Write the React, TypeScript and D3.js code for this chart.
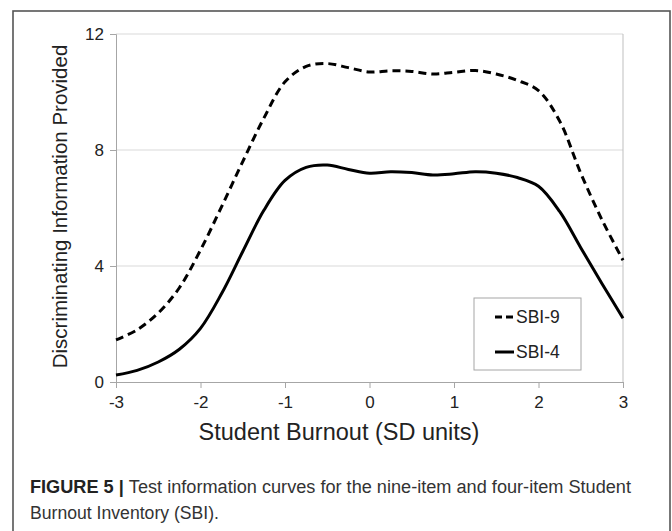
import React, { useEffect, useRef } from 'react';
import * as d3 from 'd3';

const theta = [-3, -2.75, -2.5, -2.25, -2, -1.75, -1.5, -1.25, -1, -0.75, -0.5, -0.25, 0,
	0.25, 0.5, 0.75, 1, 1.25, 1.5, 1.75, 2, 2.25, 2.5, 2.75, 3];
const sbi9 = [1.45, 1.8, 2.38, 3.25, 4.55, 6.05, 7.6, 9.1, 10.35, 10.88, 10.98, 10.84, 10.69,
	10.73, 10.71, 10.62, 10.68, 10.74, 10.62, 10.4, 10.05, 9.0, 7.2, 5.6, 4.2];
const sbi4 = [0.24, 0.4, 0.69, 1.13, 1.85, 3.05, 4.5, 5.92, 6.95, 7.4, 7.48, 7.33, 7.2,
	7.25, 7.22, 7.14, 7.18, 7.25, 7.2, 7.05, 6.75, 5.88, 4.63, 3.4, 2.2];
const xTicks = [-3, -2, -1, 0, 1, 2, 3];
const yTicks = [0, 4, 8, 12];
const seriesNames = ['SBI-9', 'SBI-4'];

const W = 672;
const H = 531;
const m = { left: 116, right: 623, top: 34, bottom: 382 };
const FONT = 'Liberation Sans, Arial, sans-serif';

const drawChart = (svgEl: SVGSVGElement) => {
	const svg = d3.select(svgEl);
	svg.selectAll('*').remove();

	const x = d3.scaleLinear().domain([-3, 3]).range([m.left, m.right]);
	const y = d3.scaleLinear().domain([0, 12]).range([m.bottom, m.top]);

	// outer frame
	svg.append('rect')
		.attr('x', 13).attr('y', 11)
		.attr('width', 657).attr('height', 540)
		.attr('fill', 'white')
		.attr('stroke', '#555').attr('stroke-width', 1.6);

	// gridlines
	svg.append('g').selectAll('line').data(yTicks.filter((d) => d > 0))
		.enter().append('line')
		.attr('x1', m.left).attr('x2', m.right)
		.attr('y1', (d) => y(d)).attr('y2', (d) => y(d))
		.attr('stroke', '#d9d9d9').attr('stroke-width', 1);

	// plot border right
	svg.append('line')
		.attr('x1', m.right).attr('x2', m.right)
		.attr('y1', m.top).attr('y2', m.bottom)
		.attr('stroke', '#bfbfbf');

	const fmt = (d: d3.NumberValue) => String(d);
	const yAxis = svg.append('g')
		.attr('transform', `translate(${ m.left },0)`)
		.call(d3.axisLeft(y).tickValues(yTicks).tickSize(6).tickPadding(6).tickFormat(fmt));
	const xAxis = svg.append('g')
		.attr('transform', `translate(0,${ m.bottom })`)
		.call(d3.axisBottom(x).tickValues(xTicks).tickSize(6).tickPadding(8).tickFormat(fmt));
	[yAxis, xAxis].forEach((ax) => {
		ax.select('.domain').attr('stroke', '#a6a6a6');
		ax.selectAll('.tick line').attr('stroke', '#a6a6a6');
		ax.selectAll('.tick text').attr('font-family', FONT).attr('font-size', 17).attr('fill', '#222');
	});

	const line = d3.line<number>()
		.x((_, i) => x(theta[i]))
		.y((d) => y(d))
		.curve(d3.curveCatmullRom.alpha(0.5));

	svg.append('path').datum(sbi9)
		.attr('d', line).attr('fill', 'none')
		.attr('stroke', '#000').attr('stroke-width', 3)
		.attr('stroke-dasharray', '8,5');
	svg.append('path').datum(sbi4)
		.attr('d', line).attr('fill', 'none')
		.attr('stroke', '#000').attr('stroke-width', 3);

	// axis titles
	svg.append('text')
		.attr('transform', `translate(67,${ (45 + 368) / 2 }) rotate(-90)`)
		.attr('text-anchor', 'middle')
		.attr('font-family', FONT).attr('font-size', 20.5).attr('fill', '#222')
		.text('Discriminating Information Provided');
	svg.append('text')
		.attr('x', 339).attr('y', 440)
		.attr('text-anchor', 'middle')
		.attr('font-family', FONT).attr('font-size', 23.5).attr('fill', '#222')
		.text('Student Burnout (SD units)');

	// legend
	const lg = svg.append('g');
	lg.append('rect')
		.attr('x', 474).attr('y', 298).attr('width', 107).attr('height', 72)
		.attr('fill', 'white').attr('stroke', '#a6a6a6');
	seriesNames.forEach((name, i) => {
		const cy = 317 + i * 35;
		lg.append('line')
			.attr('x1', 495).attr('x2', 514).attr('y1', cy).attr('y2', cy)
			.attr('stroke', '#000').attr('stroke-width', 3)
			.attr('stroke-dasharray', i === 0 ? '7,4' : null);
		lg.append('text')
			.attr('x', 516).attr('y', cy + 6)
			.attr('font-family', FONT).attr('font-size', 17.5).attr('fill', '#222')
			.text(name);
	});

	// caption
	const cap1 = svg.append('text')
		.attr('x', 30).attr('y', 493)
		.attr('textLength', 601).attr('lengthAdjust', 'spacingAndGlyphs')
		.attr('font-family', FONT).attr('font-size', 18).attr('fill', '#333');
	cap1.append('tspan').attr('font-weight', 'bold').attr('fill', '#222').text('FIGURE 5 | ');
	cap1.append('tspan').text('Test information curves for the nine-item and four-item Student');
	svg.append('text')
		.attr('x', 30).attr('y', 519)
		.attr('textLength', 189).attr('lengthAdjust', 'spacingAndGlyphs')
		.attr('font-family', FONT).attr('font-size', 18).attr('fill', '#333')
		.text('Burnout Inventory (SBI).');
};

const App = () => {
	const ref = useRef<SVGSVGElement>(null);

	useEffect(() => {
		if (ref.current) drawChart(ref.current);
	}, []);

	return (
		<svg ref={ ref } width={ W } height={ H }
			style={ { position: 'absolute', left: 0, top: 0, background: 'white' } }/>
	);
};

export default App;
